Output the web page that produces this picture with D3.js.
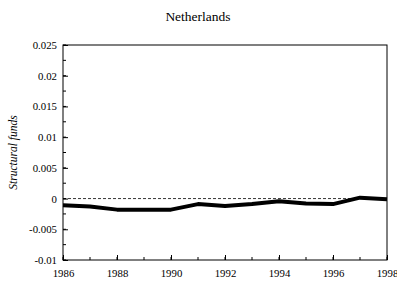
<!DOCTYPE html>
<html><head><meta charset="utf-8">
<script src="https://cdn.jsdelivr.net/npm/d3@7"></script>
<style>body{margin:0;background:#fff}svg{display:block}svg text{font-family:"Liberation Serif","Times New Roman",Times,serif}</style>
</head><body>
<svg id="c" width="397" height="281"></svg>
<script>
const title = "Netherlands";
const yLabel = "Structural funds";
const years = [1986,1987,1988,1989,1990,1991,1992,1993,1994,1995,1996,1997,1998];
const values = [-0.0011,-0.0013,-0.0018,-0.0018,-0.0018,-0.0009,-0.0012,-0.0009,-0.00045,-0.0008,-0.0009,0.00015,-0.0001];
const yTicks = [-0.01,-0.005,0,0.005,0.01,0.015,0.02,0.025];
const yTickLabels = ["-0.01","-0.005","0","0.005","0.01","0.015","0.02","0.025"];
const xTicks = [1986,1988,1990,1992,1994,1996,1998];

const svg = d3.select("#c");
const L=63, R=387, T=45, B=260;
const x = d3.scaleLinear().domain([1986,1998]).range([L,R]);
const y = d3.scaleLinear().domain([-0.01,0.025]).range([B,T]);
const font = '"Liberation Serif","Times New Roman",Times,serif';

svg.append("text").attr("x",198).attr("y",21).attr("text-anchor","middle")
  .style("font-family",font).attr("font-size",13.5).text(title);

const minorY = d3.range(-0.01,0.02501,0.0025);
svg.append("g").selectAll("line").data(minorY).join("line")
  .attr("x1",L).attr("x2",L+3).attr("y1",d=>y(d)).attr("y2",d=>y(d)).attr("stroke","#000");
const minorX = d3.range(1986,1999,1);
svg.append("g").selectAll("line").data(minorX).join("line")
  .attr("y1",B).attr("y2",B-3).attr("x1",d=>x(d)).attr("x2",d=>x(d)).attr("stroke","#000");

const yAxis = d3.axisLeft(y).tickValues(yTicks).tickSizeInner(-5).tickSizeOuter(0)
  .tickFormat((d,i)=>yTickLabels[i]).tickPadding(6);
const gy = svg.append("g").attr("transform",`translate(${L},0)`).call(yAxis);
gy.attr("font-family",null);
gy.select(".domain").remove();
gy.selectAll("text").style("font-family",font).attr("font-size",10.8);

const xAxis = d3.axisBottom(x).tickValues(xTicks).tickSizeInner(-5).tickSizeOuter(0)
  .tickFormat(d3.format("d")).tickPadding(9);
const gx = svg.append("g").attr("transform",`translate(0,${B})`).call(xAxis);
gx.attr("font-family",null);
gx.select(".domain").remove();
gx.selectAll("text").style("font-family",font).attr("font-size",10.8);

svg.append("rect").attr("x",L).attr("y",T).attr("width",R-L).attr("height",B-T)
  .attr("fill","none").attr("stroke","#000").attr("stroke-width",1);

svg.append("line").attr("x1",L).attr("x2",R).attr("y1",y(0)).attr("y2",y(0))
  .attr("stroke","#000").attr("stroke-width",0.8).attr("stroke-dasharray","3,2");

const line = d3.line().x((d,i)=>x(years[i])).y(d=>y(d));
svg.append("path").datum(values).attr("d",line).attr("fill","none")
  .attr("stroke","#000").attr("stroke-width",4).attr("stroke-linejoin","round");

svg.append("text").attr("transform",`translate(17,${(T+B)/2}) rotate(-90)`)
  .attr("text-anchor","middle").style("font-family",font).attr("font-style","italic")
  .attr("font-size",11.5).text(yLabel);
</script>
</body></html>
